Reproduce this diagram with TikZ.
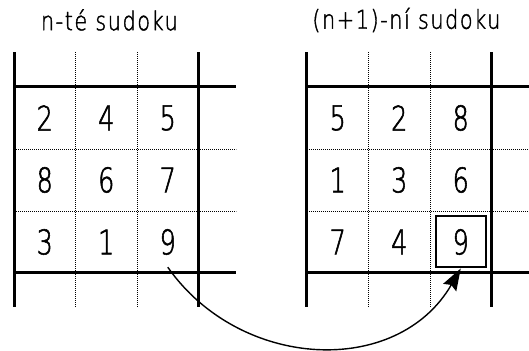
\documentclass[tikz,border=0pt]{standalone}
\usepackage{fontspec}
\newfontfamily\isofont[FakeStretch=0.75, FakeBold=1.6]{DejaVu Sans ExtraLight}
\newfontfamily\isotitle[FakeStretch=0.8, FakeBold=1.5, LetterSpace=6]{DejaVu Sans ExtraLight}
\usetikzlibrary{arrows.meta, positioning}

\begin{document}
\begin{tikzpicture}[
    % one unit = one cell of the sudoku grid
    x=61.5pt,
    y=62pt,
    >=Stealth,
    thickline/.style={line width=3pt},
    dotline/.style={line width=0.6pt, dash pattern=on 0.8pt off 1.2pt},
    digit/.style={font=\isofont\fontsize{34}{34}\selectfont, inner sep=0pt,
                  minimum width=50pt, minimum height=50pt},
    caption/.style={font=\isotitle\fontsize{26}{26}\selectfont, inner sep=0pt},
    hilite/.style={draw, line width=2pt, minimum width=50pt, minimum height=51pt, inner sep=0pt}
]
    \useasboundingbox (-0.228,-1.258) rectangle (8.374,4.403);

    % --- Grids (left: n-th, right: (n+1)-th) ---
    \foreach \gx in {0, 4.764} {
        \begin{scope}[shift={(\gx,0)}]
            \foreach \k in {1,2} {
                \draw[dotline] (\k,-0.548) -- (\k,3.565);
                \draw[dotline] (0,\k) -- (3.61,\k);
            }
            \foreach \k in {0,3} {
                \draw[thickline] (\k,-0.548) -- (\k,3.565);
                \draw[thickline] (0,\k) -- (3.61,\k);
            }
        \end{scope}
    }

    % --- Captions ---
    \node[caption] (title-old) at (1.55,4.08) {n-té sudoku};
    \node[caption] (title-new) at (6.38,4.08) {(n+1)-ní sudoku};

    % --- Digits ---
    \foreach \d/\c/\r in {2/0/2, 4/1/2, 5/2/2, 8/0/1, 6/1/1, 7/2/1, 3/0/0, 1/1/0, 9/2/0}
        \node[digit] (old-\c\r) at (\c+0.5,\r+0.5) {\d};
    \foreach \d/\c/\r in {5/0/2, 2/1/2, 8/2/2, 1/0/1, 3/1/1, 6/2/1, 7/0/0, 4/1/0, 9/2/0}
        \node[digit] (new-\c\r) at (4.764+\c+0.5,\r+0.5) {\d};

    % --- Moved cell ---
    \node[hilite] (target) at (new-20) {};
    \draw[->, line width=1.4pt, >={Stealth[length=22pt, width=15pt, inset=3pt]}]
        (old-20.south) to[out=-55, in=-120, looseness=1.1] (target.south);

\end{tikzpicture}
\end{document}
